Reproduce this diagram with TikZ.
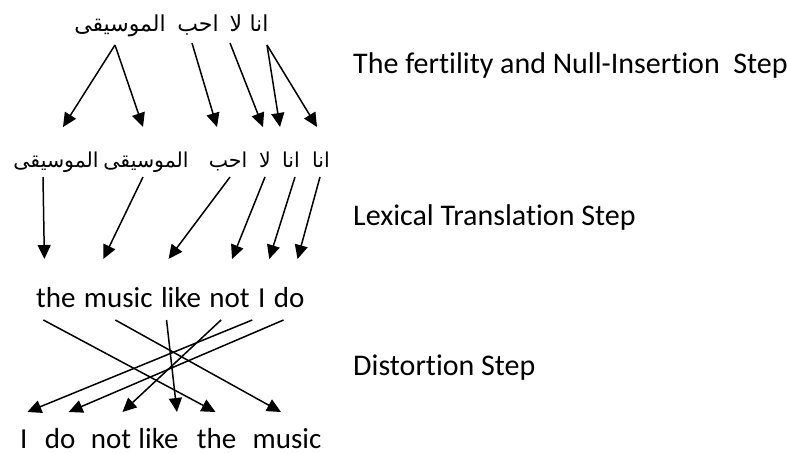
\documentclass[tikz,border=0pt]{standalone}
\usepackage{fontspec}
\setmainfont[Ligatures=NoCommon]{Carlito}
\newfontfamily\arabicfont[Script=Arabic]{DejaVu Sans}
\TeXXeTstate=1
\usetikzlibrary{arrows.meta,calc}
\begin{document}
\begin{tikzpicture}[x=1pt,y=-1pt,
  en/.style={inner sep=0pt,anchor=base west,font=\fontsize{29}{34}\selectfont},
  ar/.style={inner sep=0pt,anchor=base,font=\arabicfont\fontsize{22}{28}\selectfont},
  arb/.style={inner sep=0pt,anchor=base,font=\arabicfont\fontsize{20.5}{26}\selectfont},
  lab/.style={inner sep=0pt,anchor=base west,font=\fontsize{30}{34}\selectfont},
  arr/.style={line width=1.5pt,-{Triangle[length=14pt,width=13pt]}}]
\useasboundingbox (0,0) rectangle (787,453);
% row 1 (Arabic source)
\node[ar] (a1) at (120,31) {\beginR الموسيقى\endR};
\node[ar] (a2) at (198,31) {\beginR احب\endR};
\node[ar] (a3) at (236,31) {\beginR لا\endR};
\node[ar] (a4) at (259,31) {\beginR انا\endR};
% row 2
\node[arb] (b1) at (56,167) {\beginR الموسيقى\endR};
\node[arb] (b2) at (146,167) {\beginR الموسيقى\endR};
\node[arb] (b3) at (228,167) {\beginR احب\endR};
\node[arb] (b4) at (265,167) {\beginR لا\endR};
\node[arb] (b5) at (291,167) {\beginR انا\endR};
\node[arb] (b6) at (321,167) {\beginR انا\endR};
% row 3
\node[en] (c1) at (36,307) {the};
\node[en] (c2) at ($(c1.base east)+(8,0)$) {music};
\node[en] (c3) at ($(c2.base east)+(8,0)$) {like};
\node[en] (c4) at ($(c3.base east)+(8,0)$) {not};
\node[en] (c5) at ($(c4.base east)+(8,0)$) {I};
\node[en] (c6) at ($(c5.base east)+(8,0)$) {do};
% row 4
\node[en] (d1) at (20,448) {I};
\node[en] (d2) at ($(d1.base east)+(17,0)$) {do};
\node[en] (d3) at ($(d2.base east)+(15,0)$) {not};
\node[en] (d4) at ($(d3.base east)+(7,0)$) {like};
\node[en] (d5) at ($(d4.base east)+(18,0)$) {the};
\node[en] (d6) at ($(d5.base east)+(16,0)$) {music};
% labels
\node[lab] (l1) at (353,73) {The fertility and Null-Insertion\ \ Step};
\node[lab] (l2) at (353,225) {Lexical Translation Step};
\node[lab] (l3) at (353,375) {Distortion Step};
% fertility arrows
\draw[arr] ($(a1.base)+(-5,14)$) -- ($(b1.base)+(7,-40)$);
\draw[arr] ($(a1.base)+(-5,14)$) -- ($(b2.base)+(-3,-40)$);
\draw[arr] ($(a2.base)+(-6,12)$) -- ($(b3.base)+(-11,-40)$);
\draw[arr] ($(a3.base)+(-6,12)$) -- ($(b4.base)+(-2,-40)$);
\draw[arr] ($(a4.base)+(8,14)$) -- ($(b5.base)+(-11,-40)$);
\draw[arr] ($(a4.base)+(8,14)$) -- ($(b6.base)+(-4,-40)$);
% lexical arrows
\draw[arr] ($(b1.base)+(-13,10)$) -- ($(c1.base)+(-11.5,-48)$);
\draw[arr] ($(b2.base)+(-3,10)$) -- ($(c2.base)+(-15,-48)$);
\draw[arr] ($(b3.base)+(2,10)$) -- ($(c3.base)+(-12.5,-48)$);
\draw[arr] ($(b4.base)+(0,10)$) -- ($(c4.base)+(2.5,-48)$);
\draw[arr] ($(b5.base)+(4,10)$) -- ($(c5.base)+(7.5,-48)$);
\draw[arr] ($(b6.base)+(-1,10)$) -- ($(c6.base)+(8.5,-48)$);
% distortion arrows
\draw[arr] ($(c1.base)+(-12.5,13)$) -- ($(d5.base)+(-1,-36)$);
\draw[arr] ($(c2.base)+(-3,13)$) -- ($(d6.base)+(-6,-36)$);
\draw[arr] ($(c3.base)+(-14.5,13)$) -- ($(d4.base)+(18.5,-36)$);
\draw[arr] ($(c4.base)+(-8.5,13)$) -- ($(d3.base)+(11.5,-36)$);
\draw[arr] ($(c5.base)+(-9.5,13)$) -- ($(d1.base)+(3.5,-36)$);
\draw[arr] ($(c6.base)+(-5.5,13)$) -- ($(d2.base)+(8.5,-36)$);
\end{tikzpicture}
\end{document}
